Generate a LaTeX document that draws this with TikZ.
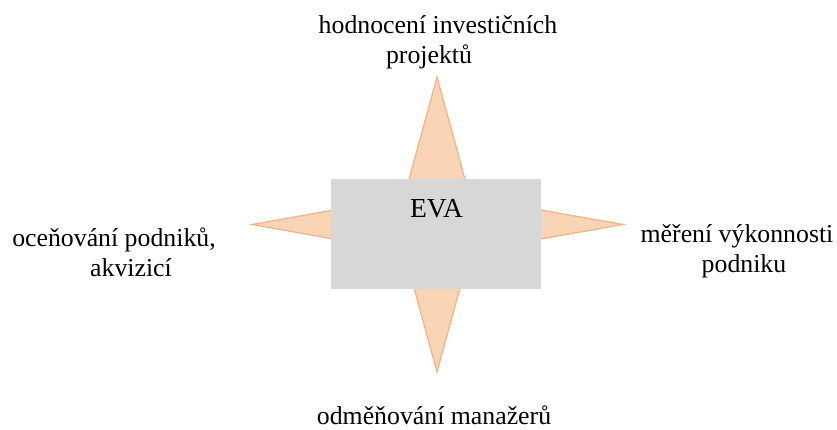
\documentclass[tikz,border=0pt]{standalone}
\usepackage{fontspec}
\setmainfont{Liberation Serif}
\usetikzlibrary{calc}
\definecolor{starfill}{HTML}{FAD5B5}
\definecolor{starline}{HTML}{F4B183}
\definecolor{boxfill}{HTML}{D7D7D7}
\tikzset{
  lbl/.style={anchor=base, inner sep=0pt, font=\fontsize{25.8}{30}\selectfont},
  evalbl/.style={anchor=base, inner sep=0pt, font=\fontsize{27.5}{32}\selectfont},
  starshape/.style={fill=starfill, draw=starline, line width=1.2pt, line join=miter},
  boxshape/.style={fill=boxfill, draw=none, minimum width=210pt, minimum height=110pt, inner sep=0pt}
}
\begin{document}
\begin{tikzpicture}[x=1pt,y=-1pt]
\useasboundingbox (0,0) rectangle (837,430);
% star
\coordinate (c) at (437,224.5);
\coordinate (tN) at (437,77);
\coordinate (tS) at (437,372);
\coordinate (tW) at (252,224.5);
\coordinate (tE) at (623,224.5);
\draw[starshape] (tN) -- ($(c)+(33,-27)$) -- (tE) -- ($(c)+(33,27)$) -- (tS)
  -- ($(c)+(-33,27)$) -- (tW) -- ($(c)+(-33,-27)$) -- cycle;
% box
\node[boxshape] (box) at (436,233.7) {};
\node[evalbl] (eva) at (436.5,217.5) {EVA};
% labels
\node[lbl] (top1) at (438,33.5) {hodnocení investičních};
\node[lbl] (top2) at (429,63.5) {projektů};
\node[lbl] (left1) at (114,246.5) {oceňování podniků,};
\node[lbl] (left2) at (131,276.5) {akvizicí};
\node[lbl] (right1) at (737,242.5) {měření výkonnosti};
\node[lbl] (right2) at (744,272.5) {podniku};
\node[lbl] (bottom) at (434,424) {odměňování manažerů};
\end{tikzpicture}
\end{document}
